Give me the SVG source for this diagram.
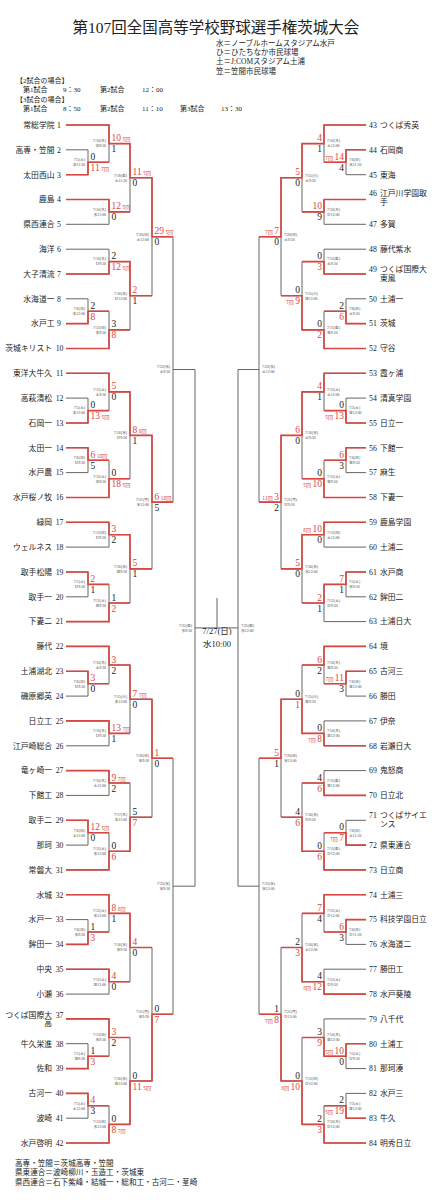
<svg xmlns="http://www.w3.org/2000/svg" width="438" height="1200" viewBox="0 0 438 1200">
<style>
.g{fill:none;stroke:#666;stroke-width:1}
.r{fill:none;stroke:#d9453f;stroke-width:1.6}
text{font-family:"Liberation Serif","Noto Sans CJK JP",serif;fill:#222}
.n{font-size:7.8px}
.s{font-size:9.5px}
.w{fill:#d9453f}
.i{font-size:5px;font-family:"Noto Sans CJK JP",sans-serif}
.d{font-size:3.8px;fill:#444}
.e{text-anchor:end}
.h{font-size:7px}
.v{font-size:7.5px}
.f{font-size:7.6px}
</style>
<rect width="438" height="1200" fill="#fff"/>
<g id="header">
<text x="216" y="33" font-size="15.5" text-anchor="middle">第107回全国高等学校野球選手権茨城大会</text>
<text class="v" x="216" y="46.3">水＝ノーブルホームスタジアム水戸</text>
<text class="v" x="216" y="55.3">ひ＝ひたちなか市民球場</text>
<text class="v" x="216" y="64.3">土＝J:COMスタジアム土浦</text>
<text class="v" x="216" y="73.6">笠＝笠間市民球場</text>
<text class="h" x="16" y="82.5">【2試合の場合】</text>
<text class="h" x="23" y="92">第1試合</text><text class="h" x="63" y="92">9：30</text><text class="h" x="100" y="92">第2試合</text><text class="h" x="142" y="92">12：00</text>
<text class="h" x="16" y="101.5">【3試合の場合】</text>
<text class="h" x="23" y="111">第1試合</text><text class="h" x="63" y="111">8：50</text><text class="h" x="100" y="111">第2試合</text><text class="h" x="142" y="111">11：10</text><text class="h" x="180" y="111">第3試合</text><text class="h" x="221" y="111">13：30</text>
</g>
<g id="connectors">
<path class="g" d="M66 125H109M66 149.8H88M66 174.7H88M66 199.5H109M66 224.3H109M66 249.2H109M66 274H109M66 298.8H88M66 323.6H88M66 348.5H109M66 373.3H109M66 398.1H88M66 423H88M66 447.8H88M66 472.6H88M66 497.5H109M66 522.3H109M66 547.1H109M66 572H88M66 596.8H88M66 621.6H109M66 646.4H109M66 671.3H88M66 696.1H88M66 720.9H109M66 745.8H109M66 770.6H109M66 795.4H109M66 820.3H88M66 845.1H88M66 869.9H109M66 894.7H109M66 919.6H88M66 944.4H88M66 969.2H109M66 994.1H109M66 1018.9H109M66 1043.7H88M66 1068.6H88M66 1093.4H88M66 1118.2H88M66 1143H109"/>
<path class="g" d="M88 149.8V174.7M88 162.2H109M109 125V162.2M109 143.6H130M109 199.5V224.3M109 211.9H130M130 143.6V211.9M130 177.8H152M88 298.8V323.6M88 311.2H109M109 249.2V274M109 261.6H130M109 311.2V348.5M109 329.9H130M130 261.6V329.9M130 295.7H152M152 177.8V295.7M152 236.8H173M88 398.1V423M88 410.6H109M109 373.3V410.6M109 391.9H130M88 447.8V472.6M88 460.2H109M109 460.2V497.5M109 478.8H130M130 391.9V478.8M130 435.4H152M109 522.3V547.1M109 534.7H130M88 572V596.8M88 584.4H109M109 584.4V621.6M109 603H130M130 534.7V603M130 568.9H152M152 435.4V568.9M152 502.1H173M173 236.8V502.1M173 369.5H195"/>
<path class="g" d="M88 671.3V696.1M88 683.7H109M109 646.4V683.7M109 665H130M109 720.9V745.8M109 733.4H130M130 665V733.4M130 699.2H152M109 770.6V795.4M109 783H130M88 820.3V845.1M88 832.7H109M109 832.7V869.9M109 851.3H130M130 783V851.3M130 817.2H152M152 699.2V817.2M152 758.2H173M88 919.6V944.4M88 932H109M109 894.7V932M109 913.4H130M109 969.2V994.1M109 981.7H130M130 913.4V981.7M130 947.5H152M88 1043.7V1068.6M88 1056.2H109M109 1018.9V1056.2M109 1037.5H130M88 1093.4V1118.2M88 1105.8H109M109 1105.8V1143M109 1124.4H130M130 1037.5V1124.4M130 1081H152M152 947.5V1081M152 1014.2H173M173 758.2V1014.2M173 886.2H195M195 369.5V886.2"/>
<path class="g" d="M195 627.9H238M217 627.9V598"/>
<path class="g" d="M366 125H324M366 149.8H346M366 174.7H346M366 199.5H324M366 224.3H324M366 249.2H324M366 274H324M366 298.8H346M366 323.6H346M366 348.5H324M366 373.3H324M366 398.1H346M366 423H346M366 447.8H346M366 472.6H346M366 497.5H324M366 522.3H324M366 547.1H324M366 572H346M366 596.8H346M366 621.6H324M366 646.4H324M366 671.3H346M366 696.1H346M366 720.9H324M366 745.8H324M366 770.6H324M366 795.4H324M366 820.3H346M366 845.1H346M366 869.9H324M366 894.7H324M366 919.6H346M366 944.4H346M366 969.2H324M366 994.1H324M366 1018.9H324M366 1043.7H346M366 1068.6H346M366 1093.4H346M366 1118.2H346M366 1143H324"/>
<path class="g" d="M346 149.8V174.7M346 162.2H324M324 125V162.2M324 143.6H302M324 199.5V224.3M324 211.9H302M302 143.6V211.9M302 177.8H281M324 249.2V274M324 261.6H302M346 298.8V323.6M346 311.2H324M324 311.2V348.5M324 329.9H302M302 261.6V329.9M302 295.7H281M281 177.8V295.7M281 236.8H259M346 398.1V423M346 410.6H324M324 373.3V410.6M324 391.9H302M346 447.8V472.6M346 460.2H324M324 460.2V497.5M324 478.8H302M302 391.9V478.8M302 435.4H281M324 522.3V547.1M324 534.7H302M346 572V596.8M346 584.4H324M324 584.4V621.6M324 603H302M302 534.7V603M302 568.9H281M281 435.4V568.9M281 502.1H259M259 236.8V502.1M259 369.5H238"/>
<path class="g" d="M346 671.3V696.1M346 683.7H324M324 646.4V683.7M324 665H302M324 720.9V745.8M324 733.4H302M302 665V733.4M302 699.2H281M324 770.6V795.4M324 783H302M346 820.3V845.1M346 832.7H324M324 832.7V869.9M324 851.3H302M302 783V851.3M302 817.2H281M281 699.2V817.2M281 758.2H259M346 919.6V944.4M346 932H324M324 894.7V932M324 913.4H302M324 969.2V994.1M324 981.7H302M302 913.4V981.7M302 947.5H281M346 1043.7V1068.6M346 1056.2H324M324 1018.9V1056.2M324 1037.5H302M346 1093.4V1118.2M346 1105.8H324M324 1105.8V1143M324 1124.4H302M302 1037.5V1124.4M302 1081H281M281 947.5V1081M281 1014.2H259M259 758.2V1014.2M259 886.2H238M238 369.5V886.2"/>
<path class="r" d="M66 125H109V143.6H130V177.8H152V236.8H173M66 174.7H88V162.2H109M66 199.5H109V211.9H130M66 323.6H88V311.2H109M66 274H109V261.6H130V295.7H152M66 348.5H109V329.9H130M66 423H88V410.6H109M66 373.3H109V391.9H130V435.4H152V502.1H173M66 447.8H88V460.2H109M66 497.5H109V478.8H130M66 522.3H109V534.7H130V568.9H152M66 572H88V584.4H109M66 621.6H109V603H130"/>
<path class="r" d="M66 671.3H88V683.7H109M66 646.4H109V665H130V699.2H152V758.2H173M66 720.9H109V733.4H130M66 770.6H109V783H130M66 820.3H88V832.7H109M66 869.9H109V851.3H130V817.2H152M66 944.4H88V932H109M66 894.7H109V913.4H130V947.5H152M66 969.2H109V981.7H130M66 1068.6H88V1056.2H109M66 1018.9H109V1037.5H130M66 1093.4H88V1105.8H109M66 1143H109V1124.4H130V1081H152V1014.2H173"/>
<path class="r" d="M366 149.8H346V162.2H324M366 125H324V143.6H302V177.8H281V236.8H259M366 199.5H324V211.9H302M366 274H324V261.6H302M366 323.6H346V311.2H324M366 348.5H324V329.9H302V295.7H281M366 423H346V410.6H324M366 373.3H324V391.9H302V435.4H281V502.1H259M366 447.8H346V460.2H324M366 497.5H324V478.8H302M366 522.3H324V534.7H302V568.9H281M366 572H346V584.4H324V603H302"/>
<path class="r" d="M366 671.3H346V683.7H324M366 646.4H324V665H302M366 745.8H324V733.4H302V699.2H281V758.2H259M366 795.4H324V783H302M366 845.1H346V832.7H324M366 869.9H324V851.3H302V817.2H281M366 919.6H346V932H324M366 894.7H324V913.4H302M366 994.1H324V981.7H302V947.5H281M366 1043.7H346V1056.2H324V1037.5H302M366 1118.2H346V1105.8H324M366 1143H324V1124.4H302V1081H281V1014.2H259"/>
</g>
<g id="scores">
<text class="s" x="90.5" y="159.7">0</text><text class="s w" x="90.5" y="170.7">11<tspan class="i" dx="1.5">7回</tspan></text>
<text class="s w" x="111.5" y="141.1">10<tspan class="i" dx="1.5">5回</tspan></text><text class="s" x="111.5" y="152.1">1</text>
<text class="s w" x="111.5" y="209.4">12<tspan class="i" dx="1.5">5回</tspan></text><text class="s" x="111.5" y="220.4">0</text>
<text class="s w" x="132.5" y="175.3">11<tspan class="i" dx="1.5">5回</tspan></text><text class="s" x="132.5" y="186.3">0</text>
<text class="s" x="90.5" y="308.7">2</text><text class="s w" x="90.5" y="319.7">8</text>
<text class="s" x="111.5" y="259.1">2</text><text class="s w" x="111.5" y="270.1">12<tspan class="i" dx="1.5">5回</tspan></text>
<text class="s" x="111.5" y="327.4">3</text><text class="s w" x="111.5" y="338.4">8</text>
<text class="s w" x="132.5" y="293.2">2</text><text class="s" x="132.5" y="304.2">1</text>
<text class="s w" x="154.5" y="234.3">29<tspan class="i" dx="1.5">5回</tspan></text><text class="s" x="154.5" y="245.3">0</text>
<text class="s" x="90.5" y="408.1">0</text><text class="s w" x="90.5" y="419.1">13<tspan class="i" dx="1.5">5回</tspan></text>
<text class="s w" x="111.5" y="389.4">5</text><text class="s" x="111.5" y="400.4">0</text>
<text class="s w" x="90.5" y="457.7">6<tspan class="i" dx="1.5">10回</tspan></text><text class="s" x="90.5" y="468.7">5</text>
<text class="s" x="111.5" y="476.3">0</text><text class="s w" x="111.5" y="487.3">18<tspan class="i" dx="1.5">5回</tspan></text>
<text class="s w" x="132.5" y="432.9">8<tspan class="i" dx="1.5">8回</tspan></text><text class="s" x="132.5" y="443.9">1</text>
<text class="s w" x="111.5" y="532.2">3</text><text class="s" x="111.5" y="543.2">2</text>
<text class="s w" x="90.5" y="581.9">2</text><text class="s" x="90.5" y="592.9">1</text>
<text class="s" x="111.5" y="600.5">1</text><text class="s w" x="111.5" y="611.5">2</text>
<text class="s w" x="132.5" y="566.4">5</text><text class="s" x="132.5" y="577.4">1</text>
<text class="s w" x="154.5" y="499.6">6<tspan class="i" dx="1.5">10回</tspan></text><text class="s" x="154.5" y="510.6">5</text>
<text class="s w" x="90.5" y="681.2">3</text><text class="s" x="90.5" y="692.2">0</text>
<text class="s w" x="111.5" y="662.5">3</text><text class="s" x="111.5" y="673.5">2</text>
<text class="s w" x="111.5" y="730.9">13<tspan class="i" dx="1.5">7回</tspan></text><text class="s" x="111.5" y="741.9">1</text>
<text class="s w" x="132.5" y="696.7">7<tspan class="i" dx="1.5">7回</tspan></text><text class="s" x="132.5" y="707.7">0</text>
<text class="s w" x="111.5" y="780.5">9<tspan class="i" dx="1.5">7回</tspan></text><text class="s" x="111.5" y="791.5">2</text>
<text class="s w" x="90.5" y="830.2">12<tspan class="i" dx="1.5">5回</tspan></text><text class="s" x="90.5" y="841.2">0</text>
<text class="s" x="111.5" y="848.8">0</text><text class="s w" x="111.5" y="859.8">6</text>
<text class="s" x="132.5" y="814.7">5</text><text class="s w" x="132.5" y="825.7">7</text>
<text class="s w" x="154.5" y="755.7">1</text><text class="s" x="154.5" y="766.7">0</text>
<text class="s" x="90.5" y="929.5">1</text><text class="s w" x="90.5" y="940.5">3</text>
<text class="s w" x="111.5" y="910.9">8<tspan class="i" dx="1.5">8回</tspan></text><text class="s" x="111.5" y="921.9">1</text>
<text class="s w" x="111.5" y="979.2">4</text><text class="s" x="111.5" y="990.2">0</text>
<text class="s w" x="132.5" y="945">4</text><text class="s" x="132.5" y="956">0</text>
<text class="s" x="90.5" y="1053.7">1</text><text class="s w" x="90.5" y="1064.7">3</text>
<text class="s w" x="111.5" y="1035">3</text><text class="s" x="111.5" y="1046">2</text>
<text class="s w" x="90.5" y="1103.3">4</text><text class="s" x="90.5" y="1114.3">3</text>
<text class="s" x="111.5" y="1121.9">0</text><text class="s w" x="111.5" y="1132.9">8<tspan class="i" dx="1.5">7回</tspan></text>
<text class="s" x="132.5" y="1078.5">0</text><text class="s w" x="132.5" y="1089.5">11<tspan class="i" dx="1.5">5回</tspan></text>
<text class="s" x="154.5" y="1011.7">0</text><text class="s w" x="154.5" y="1022.7">7</text>
<text class="s w e" x="344" y="159.7"><tspan class="i">7回</tspan><tspan dx="1.5">14</tspan></text><text class="s e" x="344" y="170.7">4</text>
<text class="s w e" x="322" y="141.1">4</text><text class="s e" x="322" y="152.1">1</text>
<text class="s w e" x="322" y="209.4">10</text><text class="s e" x="322" y="220.4">9</text>
<text class="s w e" x="300" y="175.3">5</text><text class="s e" x="300" y="186.3">0</text>
<text class="s e" x="322" y="259.1">0</text><text class="s w e" x="322" y="270.1">3</text>
<text class="s e" x="344" y="308.7">2</text><text class="s w e" x="344" y="319.7">6</text>
<text class="s e" x="322" y="327.4">0</text><text class="s w e" x="322" y="338.4">2</text>
<text class="s e" x="300" y="293.2">0</text><text class="s w e" x="300" y="304.2"><tspan class="i">7回</tspan><tspan dx="1.5">9</tspan></text>
<text class="s w e" x="279" y="234.3"><tspan class="i">7回</tspan><tspan dx="1.5">7</tspan></text><text class="s e" x="279" y="245.3">0</text>
<text class="s e" x="344" y="408.1">0</text><text class="s w e" x="344" y="419.1"><tspan class="i">5回</tspan><tspan dx="1.5">13</tspan></text>
<text class="s w e" x="322" y="389.4">4</text><text class="s e" x="322" y="400.4">1</text>
<text class="s w e" x="344" y="457.7">6</text><text class="s e" x="344" y="468.7">3</text>
<text class="s e" x="322" y="476.3">0</text><text class="s w e" x="322" y="487.3"><tspan class="i">5回</tspan><tspan dx="1.5">10</tspan></text>
<text class="s w e" x="300" y="432.9">6</text><text class="s e" x="300" y="443.9">0</text>
<text class="s w e" x="322" y="532.2"><tspan class="i">6回</tspan><tspan dx="1.5">10</tspan></text><text class="s e" x="322" y="543.2">0</text>
<text class="s w e" x="344" y="581.9">7</text><text class="s e" x="344" y="592.9">1</text>
<text class="s w e" x="322" y="600.5">2</text><text class="s e" x="322" y="611.5">1</text>
<text class="s w e" x="300" y="566.4">5</text><text class="s e" x="300" y="577.4">0</text>
<text class="s w e" x="279" y="499.6"><tspan class="i">11回</tspan><tspan dx="1.5">3</tspan></text><text class="s e" x="279" y="510.6">2</text>
<text class="s w e" x="344" y="681.2"><tspan class="i">7回</tspan><tspan dx="1.5">11</tspan></text><text class="s e" x="344" y="692.2">3</text>
<text class="s w e" x="322" y="662.5">6</text><text class="s e" x="322" y="673.5">2</text>
<text class="s e" x="322" y="730.9">0</text><text class="s w e" x="322" y="741.9"><tspan class="i">7回</tspan><tspan dx="1.5">8</tspan></text>
<text class="s e" x="300" y="696.7">0</text><text class="s w e" x="300" y="707.7">1</text>
<text class="s e" x="322" y="780.5">4</text><text class="s w e" x="322" y="791.5">6</text>
<text class="s e" x="344" y="830.2">0</text><text class="s w e" x="344" y="841.2"><tspan class="i">7回</tspan><tspan dx="1.5">7</tspan></text>
<text class="s e" x="322" y="848.8">0</text><text class="s w e" x="322" y="859.8">6</text>
<text class="s e" x="300" y="814.7">4</text><text class="s w e" x="300" y="825.7">6</text>
<text class="s w e" x="279" y="755.7">5</text><text class="s e" x="279" y="766.7">1</text>
<text class="s w e" x="344" y="929.5">6</text><text class="s e" x="344" y="940.5">3</text>
<text class="s w e" x="322" y="910.9">7</text><text class="s e" x="322" y="921.9">4</text>
<text class="s e" x="322" y="979.2">4</text><text class="s w e" x="322" y="990.2"><tspan class="i">8回</tspan><tspan dx="1.5">12</tspan></text>
<text class="s e" x="300" y="945">2</text><text class="s w e" x="300" y="956">3</text>
<text class="s w e" x="344" y="1053.7"><tspan class="i">5回</tspan><tspan dx="1.5">10</tspan></text><text class="s e" x="344" y="1064.7">0</text>
<text class="s e" x="322" y="1035">3</text><text class="s w e" x="322" y="1046">9</text>
<text class="s e" x="344" y="1103.3">2</text><text class="s w e" x="344" y="1114.3"><tspan class="i">5回</tspan><tspan dx="1.5">19</tspan></text>
<text class="s e" x="322" y="1121.9">2</text><text class="s w e" x="322" y="1132.9">3</text>
<text class="s e" x="300" y="1078.5">0</text><text class="s w e" x="300" y="1089.5"><tspan class="i">8回</tspan><tspan dx="1.5">10</tspan></text>
<text class="s e" x="279" y="1011.7">1</text><text class="s w e" x="279" y="1022.7"><tspan class="i">7回</tspan><tspan dx="1.5">8</tspan></text>
</g>
<g id="dates">
<text class="d e" x="85" y="161">7/5(土)<tspan x="85" dy="5">水11:30</tspan></text>
<text class="d e" x="106" y="142.4">7/10(木)<tspan x="106" dy="5">水9:30</tspan></text>
<text class="d e" x="106" y="210.7">7/10(木)<tspan x="106" dy="5">水12:00</tspan></text>
<text class="d e" x="127" y="176.6">7/18(金)<tspan x="127" dy="5">土11:10</tspan></text>
<text class="d e" x="85" y="310">7/6(日)<tspan x="85" dy="5">水12:00</tspan></text>
<text class="d e" x="106" y="260.4">7/10(木)<tspan x="106" dy="5">ひ9:30</tspan></text>
<text class="d e" x="106" y="328.7">7/13(日)<tspan x="106" dy="5">水9:30</tspan></text>
<text class="d e" x="127" y="294.5">7/16(水)<tspan x="127" dy="5">ひ12:00</tspan></text>
<text class="d e" x="149" y="235.6">7/20(日)<tspan x="149" dy="5">土12:00</tspan></text>
<text class="d e" x="85" y="409.4">7/5(土)<tspan x="85" dy="5">水12:00</tspan></text>
<text class="d e" x="106" y="390.7">7/12(土)<tspan x="106" dy="5">土9:30</tspan></text>
<text class="d e" x="85" y="459">7/6(日)<tspan x="85" dy="5">ひ9:30</tspan></text>
<text class="d e" x="106" y="477.6">7/12(土)<tspan x="106" dy="5">水9:30</tspan></text>
<text class="d e" x="127" y="434.2">7/16(水)<tspan x="127" dy="5">ひ9:30</tspan></text>
<text class="d e" x="106" y="533.5">7/13(日)<tspan x="106" dy="5">ひ9:30</tspan></text>
<text class="d e" x="85" y="583.2">7/5(土)<tspan x="85" dy="5">ひ9:30</tspan></text>
<text class="d e" x="106" y="601.8">7/12(土)<tspan x="106" dy="5">笠9:30</tspan></text>
<text class="d e" x="127" y="567.7">7/16(水)<tspan x="127" dy="5">笠9:30</tspan></text>
<text class="d e" x="149" y="500.9">7/21(月)<tspan x="149" dy="5">水12:00</tspan></text>
<text class="d e" x="170" y="368.3">7/23(水)<tspan x="170" dy="5">土9:30</tspan></text>
<text class="d e" x="85" y="682.5">7/6(日)<tspan x="85" dy="5">ひ9:30</tspan></text>
<text class="d e" x="106" y="663.8">7/10(木)<tspan x="106" dy="5">土9:30</tspan></text>
<text class="d e" x="106" y="732.2">7/10(木)<tspan x="106" dy="5">ひ9:30</tspan></text>
<text class="d e" x="127" y="698">7/15(火)<tspan x="127" dy="5">水12:00</tspan></text>
<text class="d e" x="106" y="781.8">7/10(木)<tspan x="106" dy="5">土12:00</tspan></text>
<text class="d e" x="85" y="831.5">7/6(日)<tspan x="85" dy="5">土11:00</tspan></text>
<text class="d e" x="106" y="850.1">7/12(土)<tspan x="106" dy="5">水12:00</tspan></text>
<text class="d e" x="127" y="816">7/17(木)<tspan x="127" dy="5">水12:00</tspan></text>
<text class="d e" x="149" y="757">7/20(日)<tspan x="149" dy="5">水9:30</tspan></text>
<text class="d e" x="85" y="930.8">7/6(日)<tspan x="85" dy="5">水9:30</tspan></text>
<text class="d e" x="106" y="912.2">7/12(土)<tspan x="106" dy="5">水12:00</tspan></text>
<text class="d e" x="106" y="980.5">7/12(土)<tspan x="106" dy="5">笠12:00</tspan></text>
<text class="d e" x="127" y="946.3">7/16(水)<tspan x="127" dy="5">水9:30</tspan></text>
<text class="d e" x="85" y="1055">7/5(土)<tspan x="85" dy="5">笠9:30</tspan></text>
<text class="d e" x="106" y="1036.3">7/13(日)<tspan x="106" dy="5">水9:30</tspan></text>
<text class="d e" x="85" y="1104.6">7/5(土)<tspan x="85" dy="5">土12:00</tspan></text>
<text class="d e" x="106" y="1123.2">7/13(日)<tspan x="106" dy="5">水12:00</tspan></text>
<text class="d e" x="127" y="1079.8">7/16(水)<tspan x="127" dy="5">笠12:00</tspan></text>
<text class="d e" x="149" y="1013">7/21(月)<tspan x="149" dy="5">水9:30</tspan></text>
<text class="d e" x="170" y="885">7/23(水)<tspan x="170" dy="5">水9:30</tspan></text>
<text class="d e" x="192" y="626.7">7/25(金)<tspan x="192" dy="5">水9:30</tspan></text>
<text class="d" x="349" y="161">7/6(日)<tspan x="349" dy="5">水11:30</tspan></text>
<text class="d" x="327" y="142.4">7/10(木)<tspan x="327" dy="5">土12:00</tspan></text>
<text class="d" x="327" y="210.7">7/10(木)<tspan x="327" dy="5">ひ12:00</tspan></text>
<text class="d" x="305" y="176.6">7/15(火)<tspan x="305" dy="5">土9:30</tspan></text>
<text class="d" x="327" y="260.4">7/11(金)<tspan x="327" dy="5">土9:30</tspan></text>
<text class="d" x="349" y="310">7/6(日)<tspan x="349" dy="5">土9:30</tspan></text>
<text class="d" x="327" y="328.7">7/11(金)<tspan x="327" dy="5">笠9:30</tspan></text>
<text class="d" x="305" y="294.5">7/15(火)<tspan x="305" dy="5">笠12:00</tspan></text>
<text class="d" x="284" y="235.6">7/20(日)<tspan x="284" dy="5">土9:30</tspan></text>
<text class="d" x="349" y="409.4">7/5(土)<tspan x="349" dy="5">笠12:00</tspan></text>
<text class="d" x="327" y="390.7">7/12(土)<tspan x="327" dy="5">土12:00</tspan></text>
<text class="d" x="349" y="459">7/6(日)<tspan x="349" dy="5">笠9:30</tspan></text>
<text class="d" x="327" y="477.6">7/12(土)<tspan x="327" dy="5">笠9:30</tspan></text>
<text class="d" x="305" y="434.2">7/16(水)<tspan x="305" dy="5">土9:30</tspan></text>
<text class="d" x="327" y="533.5">7/13(日)<tspan x="327" dy="5">土12:00</tspan></text>
<text class="d" x="349" y="583.2">7/5(土)<tspan x="349" dy="5">水9:30</tspan></text>
<text class="d" x="327" y="601.8">7/12(土)<tspan x="327" dy="5">ひ9:30</tspan></text>
<text class="d" x="305" y="567.7">7/16(水)<tspan x="305" dy="5">水12:00</tspan></text>
<text class="d" x="284" y="500.9">7/21(月)<tspan x="284" dy="5">ひ9:30</tspan></text>
<text class="d" x="262" y="368.3">7/23(水)<tspan x="262" dy="5">土12:00</tspan></text>
<text class="d" x="349" y="682.5">7/6(日)<tspan x="349" dy="5">笠12:00</tspan></text>
<text class="d" x="327" y="663.8">7/10(木)<tspan x="327" dy="5">笠9:30</tspan></text>
<text class="d" x="327" y="732.2">7/10(木)<tspan x="327" dy="5">笠12:00</tspan></text>
<text class="d" x="305" y="698">7/15(火)<tspan x="305" dy="5">笠9:30</tspan></text>
<text class="d" x="327" y="781.8">7/11(金)<tspan x="327" dy="5">笠12:00</tspan></text>
<text class="d" x="349" y="831.5">7/6(日)<tspan x="349" dy="5">土11:30</tspan></text>
<text class="d" x="327" y="850.1">7/11(金)<tspan x="327" dy="5">ひ12:00</tspan></text>
<text class="d" x="305" y="816">7/16(水)<tspan x="305" dy="5">ひ9:30</tspan></text>
<text class="d" x="284" y="757">7/20(日)<tspan x="284" dy="5">水12:00</tspan></text>
<text class="d" x="349" y="930.8">7/6(日)<tspan x="349" dy="5">ひ11:30</tspan></text>
<text class="d" x="327" y="912.2">7/12(土)<tspan x="327" dy="5">ひ12:00</tspan></text>
<text class="d" x="327" y="980.5">7/12(土)<tspan x="327" dy="5">ひ9:30</tspan></text>
<text class="d" x="305" y="946.3">7/16(水)<tspan x="305" dy="5">土12:00</tspan></text>
<text class="d" x="349" y="1055">7/5(土)<tspan x="349" dy="5">ひ9:30</tspan></text>
<text class="d" x="327" y="1036.3">7/10(木)<tspan x="327" dy="5">笠12:00</tspan></text>
<text class="d" x="349" y="1104.6">7/5(土)<tspan x="349" dy="5">笠12:00</tspan></text>
<text class="d" x="327" y="1123.2">7/10(木)<tspan x="327" dy="5">ひ12:00</tspan></text>
<text class="d" x="305" y="1079.8">7/13(日)<tspan x="305" dy="5">ひ12:00</tspan></text>
<text class="d" x="284" y="1013">7/21(月)<tspan x="284" dy="5">ひ12:00</tspan></text>
<text class="d" x="262" y="885">7/23(水)<tspan x="262" dy="5">水12:00</tspan></text>
<text class="d" x="241" y="626.7">7/25(金)<tspan x="241" dy="5">水12:00</tspan></text>
</g>
<g id="final">
<text x="217" y="634" font-size="8.5" text-anchor="middle">7/27(日)</text>
<text x="217" y="647" font-size="8.5" text-anchor="middle">水10:00</text>
</g>
<g id="team1"><text class="n e" x="54.5" y="127.8">常総学院</text><text class="n" x="57" y="127.8">1</text></g>
<g id="team2"><text class="n e" x="54.5" y="152.6">高専・笠間</text><text class="n" x="57" y="152.6">2</text></g>
<g id="team3"><text class="n e" x="54.5" y="177.5">太田西山</text><text class="n" x="57" y="177.5">3</text></g>
<g id="team4"><text class="n e" x="54.5" y="202.3">鹿島</text><text class="n" x="57" y="202.3">4</text></g>
<g id="team5"><text class="n e" x="54.5" y="227.1">県西連合</text><text class="n" x="57" y="227.1">5</text></g>
<g id="team6"><text class="n e" x="54.5" y="252">海洋</text><text class="n" x="57" y="252">6</text></g>
<g id="team7"><text class="n e" x="54.5" y="276.8">大子清流</text><text class="n" x="57" y="276.8">7</text></g>
<g id="team8"><text class="n e" x="54.5" y="301.6">水海道一</text><text class="n" x="57" y="301.6">8</text></g>
<g id="team9"><text class="n e" x="54.5" y="326.4">水戸工</text><text class="n" x="57" y="326.4">9</text></g>
<g id="team10"><text class="n e" x="52" y="351.3">茨城キリスト</text><text class="n e" x="63.5" y="351.3">10</text></g>
<g id="team11"><text class="n e" x="52" y="376.1">東洋大牛久</text><text class="n e" x="63.5" y="376.1">11</text></g>
<g id="team12"><text class="n e" x="52" y="400.9">高萩清松</text><text class="n e" x="63.5" y="400.9">12</text></g>
<g id="team13"><text class="n e" x="52" y="425.8">石岡一</text><text class="n e" x="63.5" y="425.8">13</text></g>
<g id="team14"><text class="n e" x="52" y="450.6">太田一</text><text class="n e" x="63.5" y="450.6">14</text></g>
<g id="team15"><text class="n e" x="52" y="475.4">水戸農</text><text class="n e" x="63.5" y="475.4">15</text></g>
<g id="team16"><text class="n e" x="52" y="500.3">水戸桜ノ牧</text><text class="n e" x="63.5" y="500.3">16</text></g>
<g id="team17"><text class="n e" x="52" y="525.1">緑岡</text><text class="n e" x="63.5" y="525.1">17</text></g>
<g id="team18"><text class="n e" x="52" y="549.9">ウェルネス</text><text class="n e" x="63.5" y="549.9">18</text></g>
<g id="team19"><text class="n e" x="52" y="574.8">取手松陽</text><text class="n e" x="63.5" y="574.8">19</text></g>
<g id="team20"><text class="n e" x="52" y="599.6">取手一</text><text class="n e" x="63.5" y="599.6">20</text></g>
<g id="team21"><text class="n e" x="52" y="624.4">下妻二</text><text class="n e" x="63.5" y="624.4">21</text></g>
<g id="team22"><text class="n e" x="52" y="649.2">藤代</text><text class="n e" x="63.5" y="649.2">22</text></g>
<g id="team23"><text class="n e" x="52" y="674.1">土浦湖北</text><text class="n e" x="63.5" y="674.1">23</text></g>
<g id="team24"><text class="n e" x="52" y="698.9">磯原郷英</text><text class="n e" x="63.5" y="698.9">24</text></g>
<g id="team25"><text class="n e" x="52" y="723.7">日立工</text><text class="n e" x="63.5" y="723.7">25</text></g>
<g id="team26"><text class="n e" x="52" y="748.6">江戸崎総合</text><text class="n e" x="63.5" y="748.6">26</text></g>
<g id="team27"><text class="n e" x="52" y="773.4">竜ヶ崎一</text><text class="n e" x="63.5" y="773.4">27</text></g>
<g id="team28"><text class="n e" x="52" y="798.2">下館工</text><text class="n e" x="63.5" y="798.2">28</text></g>
<g id="team29"><text class="n e" x="52" y="823.1">取手二</text><text class="n e" x="63.5" y="823.1">29</text></g>
<g id="team30"><text class="n e" x="52" y="847.9">那珂</text><text class="n e" x="63.5" y="847.9">30</text></g>
<g id="team31"><text class="n e" x="52" y="872.7">常磐大</text><text class="n e" x="63.5" y="872.7">31</text></g>
<g id="team32"><text class="n e" x="52" y="897.5">水城</text><text class="n e" x="63.5" y="897.5">32</text></g>
<g id="team33"><text class="n e" x="52" y="922.4">水戸一</text><text class="n e" x="63.5" y="922.4">33</text></g>
<g id="team34"><text class="n e" x="52" y="947.2">鉾田一</text><text class="n e" x="63.5" y="947.2">34</text></g>
<g id="team35"><text class="n e" x="52" y="972">中央</text><text class="n e" x="63.5" y="972">35</text></g>
<g id="team36"><text class="n e" x="52" y="996.9">小瀬</text><text class="n e" x="63.5" y="996.9">36</text></g>
<g id="team37"><text class="n e" x="52" y="1017.6">つくば国際大</text><text class="n e" x="52" y="1026.4">高</text><text class="n e" x="63.5" y="1017.6">37</text></g>
<g id="team38"><text class="n e" x="52" y="1046.5">牛久栄進</text><text class="n e" x="63.5" y="1046.5">38</text></g>
<g id="team39"><text class="n e" x="52" y="1071.4">佐和</text><text class="n e" x="63.5" y="1071.4">39</text></g>
<g id="team40"><text class="n e" x="52" y="1096.2">古河一</text><text class="n e" x="63.5" y="1096.2">40</text></g>
<g id="team41"><text class="n e" x="52" y="1121">波崎</text><text class="n e" x="63.5" y="1121">41</text></g>
<g id="team42"><text class="n e" x="52" y="1145.8">水戸啓明</text><text class="n e" x="63.5" y="1145.8">42</text></g>
<g id="team43"><text class="n" x="369" y="127.8">43</text><text class="n" x="380" y="127.8">つくば秀英</text></g>
<g id="team44"><text class="n" x="369" y="152.6">44</text><text class="n" x="380" y="152.6">石岡商</text></g>
<g id="team45"><text class="n" x="369" y="177.5">45</text><text class="n" x="380" y="177.5">東海</text></g>
<g id="team46"><text class="n" x="369" y="196">46</text><text class="n" x="380" y="196">江戸川学園取</text><text class="n" x="380" y="204.8">手</text></g>
<g id="team47"><text class="n" x="369" y="227.1">47</text><text class="n" x="380" y="227.1">多賀</text></g>
<g id="team48"><text class="n" x="369" y="252">48</text><text class="n" x="380" y="252">藤代紫水</text></g>
<g id="team49"><text class="n" x="369" y="272">49</text><text class="n" x="380" y="272">つくば国際大</text><text class="n" x="380" y="280.8">東風</text></g>
<g id="team50"><text class="n" x="369" y="301.6">50</text><text class="n" x="380" y="301.6">土浦一</text></g>
<g id="team51"><text class="n" x="369" y="326.4">51</text><text class="n" x="380" y="326.4">茨城</text></g>
<g id="team52"><text class="n" x="369" y="351.3">52</text><text class="n" x="380" y="351.3">守谷</text></g>
<g id="team53"><text class="n" x="369" y="376.1">53</text><text class="n" x="380" y="376.1">霞ヶ浦</text></g>
<g id="team54"><text class="n" x="369" y="400.9">54</text><text class="n" x="380" y="400.9">清真学園</text></g>
<g id="team55"><text class="n" x="369" y="425.8">55</text><text class="n" x="380" y="425.8">日立一</text></g>
<g id="team56"><text class="n" x="369" y="450.6">56</text><text class="n" x="380" y="450.6">下館一</text></g>
<g id="team57"><text class="n" x="369" y="475.4">57</text><text class="n" x="380" y="475.4">麻生</text></g>
<g id="team58"><text class="n" x="369" y="500.3">58</text><text class="n" x="380" y="500.3">下妻一</text></g>
<g id="team59"><text class="n" x="369" y="525.1">59</text><text class="n" x="380" y="525.1">鹿島学園</text></g>
<g id="team60"><text class="n" x="369" y="549.9">60</text><text class="n" x="380" y="549.9">土浦二</text></g>
<g id="team61"><text class="n" x="369" y="574.8">61</text><text class="n" x="380" y="574.8">水戸商</text></g>
<g id="team62"><text class="n" x="369" y="599.6">62</text><text class="n" x="380" y="599.6">鉾田二</text></g>
<g id="team63"><text class="n" x="369" y="624.4">63</text><text class="n" x="380" y="624.4">土浦日大</text></g>
<g id="team64"><text class="n" x="369" y="649.2">64</text><text class="n" x="380" y="649.2">境</text></g>
<g id="team65"><text class="n" x="369" y="674.1">65</text><text class="n" x="380" y="674.1">古河三</text></g>
<g id="team66"><text class="n" x="369" y="698.9">66</text><text class="n" x="380" y="698.9">勝田</text></g>
<g id="team67"><text class="n" x="369" y="723.7">67</text><text class="n" x="380" y="723.7">伊奈</text></g>
<g id="team68"><text class="n" x="369" y="748.6">68</text><text class="n" x="380" y="748.6">岩瀬日大</text></g>
<g id="team69"><text class="n" x="369" y="773.4">69</text><text class="n" x="380" y="773.4">鬼怒商</text></g>
<g id="team70"><text class="n" x="369" y="798.2">70</text><text class="n" x="380" y="798.2">日立北</text></g>
<g id="team71"><text class="n" x="369" y="818.4">71</text><text class="n" x="380" y="818.4">つくばサイエ</text><text class="n" x="380" y="827.2">ンス</text></g>
<g id="team72"><text class="n" x="369" y="847.9">72</text><text class="n" x="380" y="847.9">県東連合</text></g>
<g id="team73"><text class="n" x="369" y="872.7">73</text><text class="n" x="380" y="872.7">日立商</text></g>
<g id="team74"><text class="n" x="369" y="897.5">74</text><text class="n" x="380" y="897.5">土浦三</text></g>
<g id="team75"><text class="n" x="369" y="922.4">75</text><text class="n" x="380" y="922.4">科技学園日立</text></g>
<g id="team76"><text class="n" x="369" y="947.2">76</text><text class="n" x="380" y="947.2">水海道二</text></g>
<g id="team77"><text class="n" x="369" y="972">77</text><text class="n" x="380" y="972">勝田工</text></g>
<g id="team78"><text class="n" x="369" y="996.9">78</text><text class="n" x="380" y="996.9">水戸葵陵</text></g>
<g id="team79"><text class="n" x="369" y="1021.7">79</text><text class="n" x="380" y="1021.7">八千代</text></g>
<g id="team80"><text class="n" x="369" y="1046.5">80</text><text class="n" x="380" y="1046.5">土浦工</text></g>
<g id="team81"><text class="n" x="369" y="1071.4">81</text><text class="n" x="380" y="1071.4">那珂湊</text></g>
<g id="team82"><text class="n" x="369" y="1096.2">82</text><text class="n" x="380" y="1096.2">水戸三</text></g>
<g id="team83"><text class="n" x="369" y="1121">83</text><text class="n" x="380" y="1121">牛久</text></g>
<g id="team84"><text class="n" x="369" y="1145.8">84</text><text class="n" x="380" y="1145.8">明秀日立</text></g>
<g id="footer">
<text class="f" x="15" y="1166">高専・笠間＝茨城高専・笠間</text>
<text class="f" x="15" y="1175">県東連合＝波崎柳川・玉造工・茨城東</text>
<text class="f" x="15" y="1184.5">県西連合＝石下紫峰・結城一・総和工・古河二・茎崎</text>
</g>
</svg>
